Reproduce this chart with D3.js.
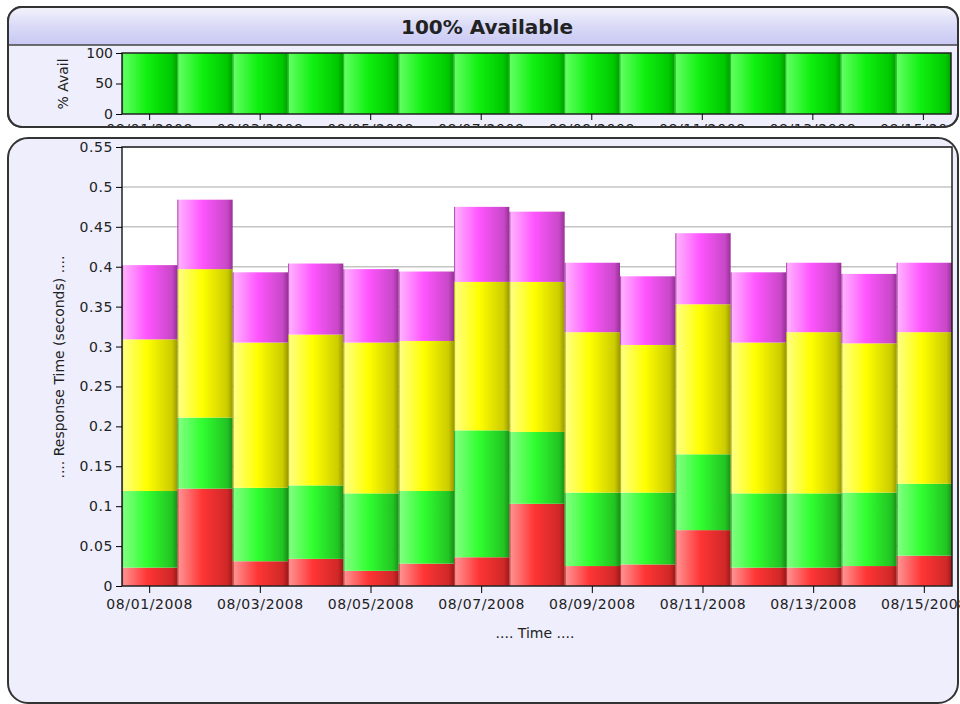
<!DOCTYPE html>
<html>
<head>
<meta charset="utf-8">
<script src="https://cdn.jsdelivr.net/npm/d3@7"></script>
<style>
  body { margin: 0; background: #fff; }
  text { font-family: "DejaVu Sans", sans-serif; fill: #222; }
</style>
</head>
<body>
<div id="chart"></div>
<script>
// data
var dates = ["08/01/2008", "08/02/2008", "08/03/2008", "08/04/2008", "08/05/2008",
  "08/06/2008", "08/07/2008", "08/08/2008", "08/09/2008", "08/10/2008",
  "08/11/2008", "08/12/2008", "08/13/2008", "08/14/2008", "08/15/2008"];
var availability = [100, 100, 100, 100, 100, 100, 100, 100, 100, 100, 100, 100, 100, 100, 100];
var seriesA = [0.023, 0.122, 0.031, 0.034, 0.019, 0.028, 0.036, 0.103, 0.025, 0.027, 0.070, 0.023, 0.023, 0.025, 0.038];
var seriesB = [0.096, 0.089, 0.092, 0.092, 0.097, 0.091, 0.159, 0.090, 0.092, 0.090, 0.095, 0.093, 0.093, 0.092, 0.090];
var seriesC = [0.190, 0.186, 0.182, 0.189, 0.189, 0.188, 0.186, 0.188, 0.201, 0.185, 0.188, 0.189, 0.202, 0.187, 0.190];
var seriesD = [0.093, 0.087, 0.088, 0.089, 0.092, 0.087, 0.094, 0.088, 0.087, 0.086, 0.089, 0.088, 0.087, 0.087, 0.087];
var availTicks = [0, 50, 100];
var timeTicks = [0, 0.05, 0.1, 0.15, 0.2, 0.25, 0.3, 0.35, 0.4, 0.45, 0.5, 0.55];

var keys = ["a", "b", "c", "d"];
var rows = dates.map((d, i) => ({ date: d, a: seriesA[i], b: seriesB[i], c: seriesC[i], d: seriesD[i] }));

var W = 960, H = 704;
var svg = d3.select("#chart").append("svg")
  .attr("width", W).attr("height", H);
var defs = svg.append("defs");

// horizontal bar shading
var shades = {
  a: ["#ff9090", "#ff3535", "#d02828", "#a01818"],
  b: ["#80ff80", "#30ff30", "#22c422", "#189018"],
  c: ["#ffff80", "#ffff00", "#cccc00", "#9a9a00"],
  d: ["#ffb0ff", "#ff55ff", "#c848c8", "#983098"],
  g: ["#60ff60", "#10f010", "#00c800", "#00a000"]
};
Object.keys(shades).forEach(k => {
  var s = shades[k];
  var lg = defs.append("linearGradient").attr("id", "grad-" + k)
    .attr("x1", 0).attr("x2", 1).attr("y1", 0).attr("y2", 0);
  lg.append("stop").attr("offset", 0).attr("stop-color", s[3]);
  lg.append("stop").attr("offset", 0.03).attr("stop-color", s[0]);
  lg.append("stop").attr("offset", 0.45).attr("stop-color", s[1]);
  lg.append("stop").attr("offset", 0.9).attr("stop-color", s[2]);
  lg.append("stop").attr("offset", 1).attr("stop-color", s[3]);
});
var tg = defs.append("linearGradient").attr("id", "title-grad")
  .attr("x1", 0).attr("x2", 0).attr("y1", 0).attr("y2", 1);
tg.append("stop").attr("offset", 0).attr("stop-color", "#f4f4fc");
tg.append("stop").attr("offset", 0.45).attr("stop-color", "#dcdcf8");
tg.append("stop").attr("offset", 1).attr("stop-color", "#c8c8f4");

// panels
svg.append("rect").attr("x", 8).attr("y", 7).attr("width", 950).attr("height", 120)
  .attr("rx", 14).attr("fill", "#eeeefc").attr("stroke", "#333").attr("stroke-width", 2);
defs.append("clipPath").attr("id", "title-clip").append("rect")
  .attr("x", 8).attr("y", 7).attr("width", 950).attr("height", 119).attr("rx", 14);
svg.append("rect").attr("x", 8).attr("y", 7).attr("width", 950).attr("height", 38)
  .attr("clip-path", "url(#title-clip)").attr("fill", "url(#title-grad)");
svg.append("line").attr("x1", 9).attr("x2", 957).attr("y1", 45).attr("y2", 45)
  .attr("stroke", "#444").attr("stroke-width", 1.5);
svg.append("text").attr("x", 487).attr("y", 34).attr("text-anchor", "middle")
  .style("font-weight", "bold").style("font-size", "20px").text("100% Available");

svg.append("rect").attr("x", 8).attr("y", 138).attr("width", 950).attr("height", 565)
  .attr("rx", 20).attr("fill", "#eeeefc").attr("stroke", "#333").attr("stroke-width", 2);

// ---- availability strip ----
var strip = { left: 122, right: 951, top: 53, bottom: 114 };
var xa = d3.scaleBand().domain(dates).range([strip.left, strip.right]).padding(0);
var ya = d3.scaleLinear().domain([0, 100]).range([strip.bottom, strip.top]);
var availG = svg.append("g").attr("clip-path", "url(#title-clip)");
availG.selectAll("rect.av").data(availability).join("rect")
  .attr("class", "av")
  .attr("x", (d, i) => xa(dates[i]))
  .attr("y", d => ya(d))
  .attr("width", xa.bandwidth())
  .attr("height", d => ya(0) - ya(d))
  .attr("fill", "url(#grad-g)");
availG.append("rect").attr("x", strip.left).attr("y", strip.top)
  .attr("width", strip.right - strip.left).attr("height", strip.bottom - strip.top)
  .attr("fill", "none").attr("stroke", "#222").attr("stroke-width", 1.5);
availG.append("g").attr("transform", "translate(" + strip.left + ",0)")
  .call(d3.axisLeft(ya).tickValues(availTicks).tickSize(6).tickSizeOuter(0))
  .call(g => g.select(".domain").remove())
  .call(g => g.selectAll("text").style("font-size", "14px").style("font-family", "DejaVu Sans").attr("fill", "#222"));
// date labels sit mostly under the panel edge, as in the original
availG.append("g").attr("transform", "translate(0," + strip.bottom + ")")
  .call(d3.axisBottom(xa).tickValues(dates.filter((d, i) => i % 2 == 0)).tickSize(6).tickSizeOuter(0))
  .call(g => g.select(".domain").remove())
  .call(g => g.selectAll("text").attr("y", 10).attr("dy", "0.71em").style("font-size", "14px").style("font-family", "DejaVu Sans")
    .style("letter-spacing", "0.6px").attr("fill", "#222"));
svg.append("text").attr("transform", "translate(68,84)rotate(-90)")
  .attr("text-anchor", "middle").style("font-size", "14px").text("% Avail");
// panel outline drawn over the clipped labels
svg.append("rect").attr("x", 8).attr("y", 7).attr("width", 950).attr("height", 120)
  .attr("rx", 14).attr("fill", "none").attr("stroke", "#333").attr("stroke-width", 2);

// ---- response time chart ----
var m = { left: 122, right: 952, top: 147, bottom: 586 };
var x = d3.scaleBand().domain(dates).range([m.left, m.right]).padding(0);
var y = d3.scaleLinear().domain([0, 0.55]).range([m.bottom, m.top]);

svg.append("rect").attr("x", m.left).attr("y", m.top)
  .attr("width", m.right - m.left).attr("height", m.bottom - m.top).attr("fill", "#fff");

svg.append("g").selectAll("line").data(timeTicks.slice(1)).join("line")
  .attr("x1", m.left).attr("x2", m.right)
  .attr("y1", d => y(d)).attr("y2", d => y(d))
  .attr("stroke", "#c4c4c4").attr("stroke-width", 1.5);

var stacked = d3.stack().keys(keys)(rows);
svg.append("g").selectAll("g").data(stacked).join("g")
  .attr("fill", s => "url(#grad-" + s.key + ")")
  .selectAll("rect").data(s => s).join("rect")
  .attr("x", d => x(d.data.date))
  .attr("y", d => y(d[1]))
  .attr("width", x.bandwidth())
  .attr("height", d => y(d[0]) - y(d[1]));

svg.append("rect").attr("x", m.left).attr("y", m.top)
  .attr("width", m.right - m.left).attr("height", m.bottom - m.top)
  .attr("fill", "none").attr("stroke", "#222").attr("stroke-width", 1.5);

svg.append("g").attr("transform", "translate(" + m.left + ",0)")
  .call(d3.axisLeft(y).tickValues(timeTicks).tickFormat(d3.format("")).tickSize(6).tickSizeOuter(0))
  .call(g => g.select(".domain").remove())
  .call(g => g.selectAll("text").style("font-size", "14px").style("font-family", "DejaVu Sans")
    .style("letter-spacing", "0.6px").attr("fill", "#222"));

svg.append("g").attr("transform", "translate(0," + m.bottom + ")")
  .call(d3.axisBottom(x).tickValues(dates.filter((d, i) => i % 2 == 0)).tickSize(7).tickSizeOuter(0))
  .call(g => g.select(".domain").remove())
  .call(g => g.selectAll("text").attr("dy", "0.9em").style("font-size", "14px").style("font-family", "DejaVu Sans")
    .style("letter-spacing", "0.6px").attr("fill", "#222"));

svg.append("text").attr("x", 535).attr("y", 638).attr("text-anchor", "middle")
  .style("font-size", "14px").text(".... Time ....");
svg.append("text").attr("transform", "translate(64,367)rotate(-90)")
  .attr("text-anchor", "middle").style("font-size", "14px").text(".... Response Time (seconds) ....");
</script>
</body>
</html>
